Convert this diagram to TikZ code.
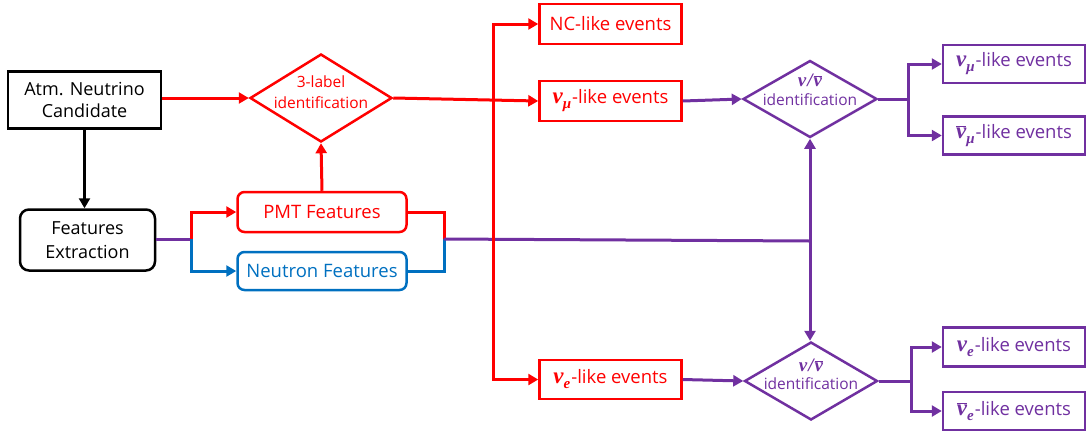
\documentclass[tikz,border=0pt]{standalone}
\usepackage{fontspec}
\setmainfont{Open Sans}
\newfontfamily\nufont{Liberation Serif}
\usetikzlibrary{shapes.geometric,arrows.meta}
\definecolor{cred}{HTML}{FF0000}
\definecolor{cpur}{HTML}{7030A0}
\definecolor{cblue}{HTML}{0070C0}
\newcommand\gnu[1]{{\fontsize{#1}{#1}\nufont\bfseries\itshape ν}}
\newcommand\gsub[1]{\raisebox{-5pt}{\fontsize{15}{15}\nufont\bfseries\itshape #1}\hspace{1pt}}
\newcommand\Nu[1]{\gnu{23}\gsub{#1}}
\newcommand\Nubar[1]{$\overline{\hbox{\gnu{23}}}$\gsub{#1}}
\newcommand\nunubar{\gnu{19}\hspace{1pt}{\fontsize{19}{19}\nufont\bfseries\itshape /}\hspace{1pt}$\overline{\hbox{\gnu{19}}}$}
\begin{document}
\begin{tikzpicture}[x=1pt,y=-1pt,
  box/.style={draw,line width=2.5pt,minimum width=142pt,minimum height=39pt,inner sep=0pt,align=center,font=\fontsize{18.5}{22}\selectfont},
  dia/.style={draw,diamond,line width=2.5pt,inner sep=0pt},
  dtxt/.style={inner sep=0pt,font=\fontsize{15.5}{19}\selectfont},
  ln/.style={line width=3pt},
  arr/.style={ln,-{Triangle[length=10pt,width=11pt]}},
  dbl/.style={ln,{Triangle[length=10pt,width=11pt]}-{Triangle[length=10pt,width=11pt]}},
]
\useasboundingbox (0,0) rectangle (1089,432);
% nodes
\node[box,minimum width=153pt,minimum height=57pt,font=\fontsize{18}{22}\selectfont] (atm) at (84.5,100) {Atm. Neutrino\\Candidate};
\node[box,rounded corners=9pt,minimum width=135pt,minimum height=61pt,font=\fontsize{18}{24}\selectfont] (fe) at (87.5,240) {Features\\Extraction};
\node[dia,draw=cred,minimum width=142pt,minimum height=88pt] (d1) at (321,98) {};
\node[dtxt,text=cred] (t1a) at (321,82) {3-label};
\node[dtxt,text=cred] (t1b) at (321,103) {identification};
\node[box,draw=cred,text=cred,rounded corners=7pt,minimum width=169pt,minimum height=40pt] (pmt) at (322,212) {PMT Features};
\node[box,draw=cblue,text=cblue,rounded corners=7pt,minimum width=169pt,minimum height=38pt] (neu) at (322,271) {Neutron Features};
\node[box,draw=cred,text=cred,minimum height=40pt] (nc) at (610.5,24) {NC-like events};
\node[box,draw=cred,text=cred,minimum height=40pt] (vmu) at (610.5,101) {\Nu{μ}-like events};
\node[box,draw=cred,text=cred,minimum height=39pt] (ve) at (610.5,379.5) {\Nu{e}-like events};
\node[dia,draw=cpur,minimum width=134pt,minimum height=77pt] (d2) at (810,99) {};
\node[dtxt,text=cpur] (t2a) at (810,80) {\nunubar};
\node[dtxt,text=cpur] (t2b) at (810,100) {identification};
\node[dia,draw=cpur,minimum width=133pt,minimum height=78pt] (d3) at (811,381) {};
\node[dtxt,text=cpur] (t3a) at (811,365) {\nunubar};
\node[dtxt,text=cpur] (t3b) at (811,384) {identification};
\node[box,draw=cpur,text=cpur,minimum height=38pt] (r1) at (1014,64) {\Nu{μ}-like events};
\node[box,draw=cpur,text=cpur,minimum height=38pt] (r2) at (1014,135.5) {\Nubar{μ}-like events};
\node[box,draw=cpur,text=cpur,minimum height=39pt] (r3) at (1014,347) {\Nu{e}-like events};
\node[box,draw=cpur,text=cpur,minimum height=38pt] (r4) at (1014,411) {\Nubar{e}-like events};
% junctions
\coordinate (j1) at (191,239);
\coordinate (j2) at (444,239);
\coordinate (j3) at (810,241);
\coordinate (br) at (493,100);
\coordinate (b2) at (908,99);
\coordinate (b3) at (911,381);
% connectors
\draw[arr] (atm.south) -- (atm.south |- fe.north);
\draw[arr,cred] (atm.east |- d1.west) -- (d1.west);
\draw[arr,cred] (pmt.north) -- (d1.south);
\draw[ln,cpur] (fe.east |- j1) -- (j1);
\draw[arr,cred] (j1) -- (j1 |- pmt.west) -- (pmt.west);
\draw[arr,cblue] (j1) -- (j1 |- neu.west) -- (neu.west);
\draw[ln,cred] (pmt.east) -- (pmt.east -| j2) -- (j2);
\draw[ln,cblue] (neu.east) -- (neu.east -| j2) -- (j2);
\draw[ln,cpur] (j2) -- (j3);
\draw[arr,cpur] (j3) -- (d2.south);
\draw[arr,cpur] (j3) -- (j3 |- d3.north);
\draw[arr,cred] (d1.east) -- (vmu.west);
\draw[dbl,cred] (nc.west) -- (br |- nc.west) -- (br |- ve.west) -- (ve.west);
\draw[arr,cpur] (vmu.east) -- (d2.west);
\draw[arr,cpur] (ve.east) -- (d3.west);
\draw[ln,cpur] (d2.east) -- (b2);
\draw[dbl,cpur] (r1.west) -- (r1.west -| b2) -- (r2.west -| b2) -- (r2.west);
\draw[ln,cpur] (d3.east) -- (b3);
\draw[dbl,cpur] (r3.west) -- (r3.west -| b3) -- (r4.west -| b3) -- (r4.west);
\end{tikzpicture}
\end{document}
